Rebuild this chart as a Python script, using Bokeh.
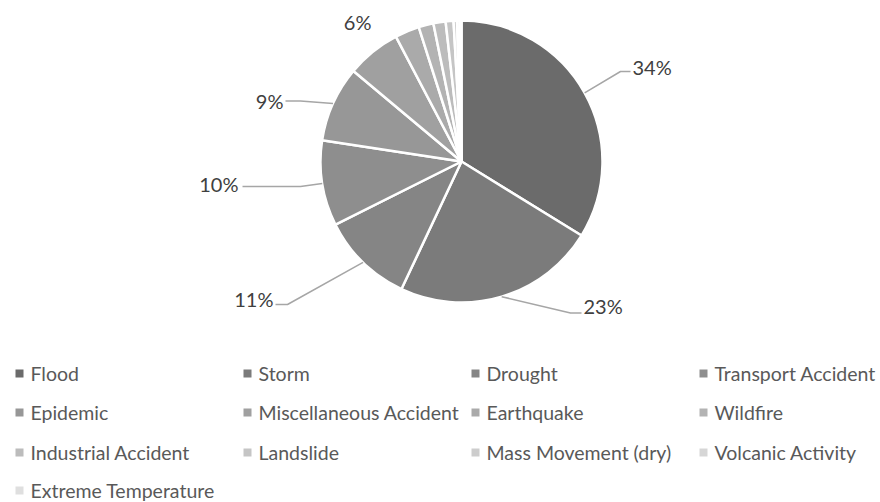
import math
from bokeh.plotting import figure
from bokeh.models import ColumnDataSource
from bokeh.core.properties import value
from bokeh.embed import file_html
from bokeh.resources import INLINE

# Share of disaster events by type (percent)
categories = ["Flood", "Storm", "Drought", "Transport Accident", "Epidemic",
              "Miscellaneous Accident", "Earthquake", "Wildfire",
              "Industrial Accident", "Landslide", "Mass Movement (dry)",
              "Volcanic Activity", "Extreme Temperature"]
shares = [33.8, 23.2, 10.6, 9.8, 8.7, 6.2, 2.8, 1.7, 1.4, 0.9, 0.4, 0.3, 0.2]
colors = ["#6b6b6b", "#7b7b7b", "#858585", "#8e8e8e", "#979797", "#a0a0a0",
          "#aaaaaa", "#b3b3b3", "#bcbcbc", "#c5c5c5", "#cdcdcd", "#d6d6d6",
          "#dfdfdf"]

W, H = 880, 502
FONT = "Lato"

def Y(py):
    # page y (top-down) -> data y (bottom-up)
    return H - py

p = figure(width=W, height=H, x_range=(0, W), y_range=(0, H),
           x_axis_type=None, y_axis_type=None, min_border=0,
           toolbar_location=None, output_backend="svg")
p.grid.visible = False
p.outline_line_color = None
p.background_fill_color = "white"
p.border_fill_color = "white"

# pie geometry
cx, cy, R = 461, Y(161), 141
total = sum(shares)
starts, ends, mids = [], [], []
acc = 0.0
for s in shares:
    f0 = acc / total
    acc += s
    f1 = acc / total
    starts.append(math.pi / 2 - 2 * math.pi * f0)
    ends.append(math.pi / 2 - 2 * math.pi * f1)
    mids.append(math.pi / 2 - 2 * math.pi * (f0 + f1) / 2)

pie = ColumnDataSource(dict(x=[cx] * len(shares), y=[cy] * len(shares),
                            start=starts, end=ends, color=colors))
p.wedge(x="x", y="y", radius=R, start_angle="start", end_angle="end",
        direction="clock", fill_color="color", line_color="white",
        line_width=2.5, source=pie)

# data labels for the six largest slices: (text x, text y, align, elbow, line end)
label_layout = [
    (632, 66, "left", (620, 71), (630, 71)),
    (583, 305, "left", (570, 312.5), (581, 312.5)),
    (273, 298, "right", (287, 304), (275, 304)),
    (238, 183, "right", (300, 186), (242, 186)),
    (283, 100, "right", (300, 100.5), (285, 100.5)),
    (371, 21, "right", None, None),
]
for i, (tx, ty, align, elbow, lend) in enumerate(label_layout):
    pct = round(shares[i] / total * 100)
    p.text(x=[tx], y=[Y(ty)], text=[f"{pct}%"], text_align=align,
           text_baseline="middle", text_font=value(FONT),
           text_font_size="20px", text_color="#404040")
    if elbow is not None:
        ex = cx + R * math.cos(mids[i])
        ey = cy + R * math.sin(mids[i])
        p.line(x=[ex, elbow[0], lend[0]], y=[ey, Y(elbow[1]), Y(lend[1])],
               line_color="#a6a6a6", line_width=1.5)

# legend: four columns, entries in series order
col_x = [15, 243, 471, 699]
row_y = [373, 412, 452, 490]
lx, ly, tx_, tl = [], [], [], []
for i, name in enumerate(categories):
    c, r = i % 4, i // 4
    lx.append(col_x[c] + 4)
    ly.append(Y(row_y[r]))
    tx_.append(col_x[c] + 15)
    tl.append(name)
p.rect(x=lx, y=ly, width=8, height=8, fill_color=colors, line_color=None)
p.text(x=tx_, y=ly, text=tl, text_align="left", text_baseline="middle",
       text_font=value(FONT), text_font_size="19.5px", text_color="#595959")

open("out.html", "w").write(file_html(p, INLINE))
